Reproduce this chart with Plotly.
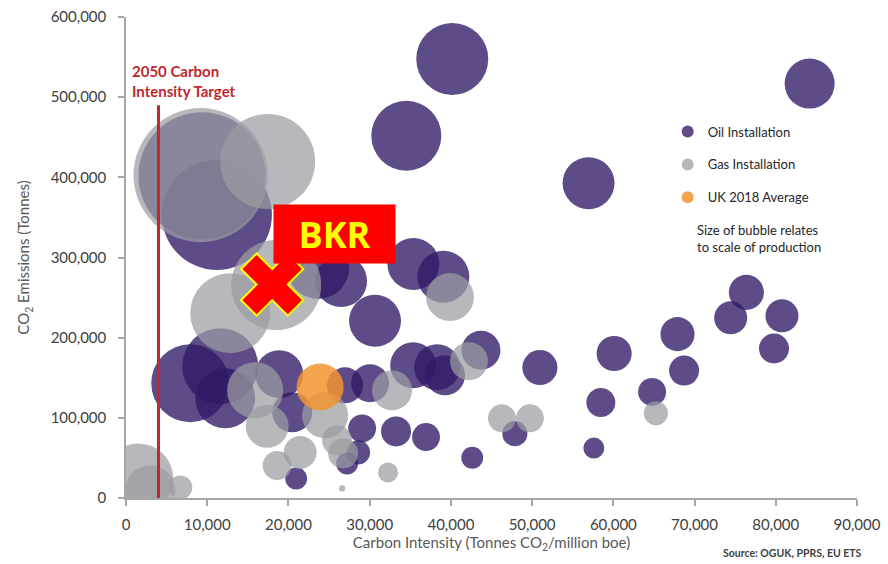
import plotly.graph_objects as go

# ---------------- data ----------------
# Oil installations: carbon intensity (t CO2 / million boe), CO2 emissions (t), production (relative, bubble area)
oil_x = [40170, 34510, 56950, 84170, 76380, 74450, 80760, 79780, 67900, 68710,
         60100, 64770, 58460, 57600, 50960, 43700, 47880, 42630, 36940, 35380,
         39070, 30660, 23660, 26480, 9350, 11190, 7910, 11600, 12210, 18870,
         20470, 20950, 26970, 30050, 29070, 28570, 27220, 33250, 35360, 38310,
         39280]
oil_y = [547750, 451900, 392750, 516900, 256500, 224750, 227250, 186500, 204400, 159000,
         180250, 132250, 119000, 62250, 162750, 184400, 80250, 50250, 76000, 291900,
         276000, 221000, 286900, 270600, 402100, 353100, 143100, 164400, 124400, 154400,
         106900, 24400, 140600, 143100, 86900, 56900, 43100, 83100, 165600, 163100,
         153100]
oil_prod = [51.8, 49.0, 27.0, 25.0, 12.3, 10.9, 10.9, 9.0, 11.6, 9.0,
            12.3, 7.8, 8.4, 4.4, 12.3, 15.2, 6.3, 4.8, 7.8, 27.0,
            27.0, 27.0, 38.4, 27.0, 161.3, 121.0, 60.8, 57.8, 36.0, 23.0,
            16.0, 4.8, 13.0, 14.4, 7.8, 5.8, 4.8, 9.0, 21.2, 21.2,
            16.0]

# Gas installations
gas_x = [9180, 17440, 12830, 18490, 15900, 17380, 18610, 21440, 26610, 26730,
         24510, 25980, 32760, 32260, 39890, 42230, 46290, 49730, 65240, 1510,
         2990, 6680]
gas_y = [402750, 419750, 230600, 265600, 134400, 89400, 40600, 56900, 11900, 55600,
         103100, 71900, 134400, 31900, 250600, 170600, 99400, 99400, 105600, 24400,
         9400, 13100]
gas_prod = [179.6, 90.3, 64.0, 81.0, 31.4, 18.5, 8.4, 10.9, 0.4, 9.0,
            21.2, 9.0, 16.0, 4.0, 23.0, 14.4, 7.8, 7.8, 5.8, 49.0,
            25.0, 5.8]

# UK 2018 average
uk_x = [23900]
uk_y = [138500]
uk_prod = [22.1]

# 2050 carbon intensity target
target_x = [4000, 4000]
target_y = [0, 490000]

# BKR marker
bkr_x = [18000]
bkr_y = [266250]
bkr_label_x = 25700
bkr_label_y = 329750

x_ticks = [0, 10000, 20000, 30000, 40000, 50000, 60000, 70000, 80000, 90000]
y_ticks = [0, 100000, 200000, 300000, 400000, 500000, 600000]

OIL = "rgba(48,25,102,0.78)"
GAS = "rgba(155,157,162,0.72)"
UK = "rgba(242,148,48,0.85)"
RED = "#c0282e"
FONT = "Lato, 'Open Sans', sans-serif"
SIZEREF = 0.02

fig = go.Figure()

fig.add_trace(go.Scatter(
    x=oil_x, y=oil_y, mode="markers", name="Oil Installation",
    legendgroup="oil",
    marker=dict(size=oil_prod, sizemode="area", sizeref=SIZEREF, color=OIL,
                opacity=1, line=dict(width=0)),
))
fig.add_trace(go.Scatter(
    x=gas_x, y=gas_y, mode="markers", name="Gas Installation",
    legendgroup="gas",
    marker=dict(size=gas_prod, sizemode="area", sizeref=SIZEREF, color=GAS,
                opacity=1, line=dict(width=0)),
))
fig.add_trace(go.Scatter(
    x=uk_x, y=uk_y, mode="markers", name="UK 2018 Average",
    legendgroup="uk",
    marker=dict(size=uk_prod, sizemode="area", sizeref=SIZEREF, color=UK,
                opacity=1, line=dict(width=0)),
))
fig.add_trace(go.Scatter(
    x=target_x, y=target_y, mode="lines", showlegend=False,
    line=dict(color=RED, width=3), hoverinfo="skip",
))
fig.add_trace(go.Scatter(
    x=bkr_x, y=bkr_y, mode="markers", showlegend=False,
    marker=dict(symbol="x", size=55, color="#ff0000", opacity=1,
                line=dict(color="#ffff00", width=2)),
))

fig.add_annotation(
    x=bkr_label_x, y=bkr_label_y, xref="x", yref="y",
    text="<b>BKR</b>", showarrow=False,
    font=dict(family="'Open Sans', sans-serif", size=36, color="#ffff00"),
    bgcolor="#ff0000", width=119, height=56, borderpad=1,
    align="center", valign="middle",
)
fig.add_annotation(
    x=0.005, y=0.91, xref="paper", yref="paper", xanchor="left", yanchor="top",
    text="<b>2050 Carbon<br>Intensity Target</b>", showarrow=False, align="left",
    font=dict(family=FONT, size=15, color=RED),
)
fig.add_annotation(
    x=0.778, y=0.579, xref="paper", yref="paper", xanchor="left", yanchor="top",
    text="Size of bubble relates<br>to scale of production", showarrow=False, align="left",
    font=dict(family=FONT, size=13, color="#262626"),
)
fig.add_annotation(
    x=1.01, y=-0.114, xref="paper", yref="paper", xanchor="right", yanchor="middle",
    text="<b>Source: OGUK, PPRS, EU ETS</b>", showarrow=False,
    font=dict(family=FONT, size=10.5, color="#404040"),
)

axis_common = dict(
    showgrid=False, zeroline=False, showline=True, linecolor="#a6a6a6", linewidth=1.5,
    ticks="outside", ticklen=6, tickcolor="#a6a6a6", tickwidth=1.5, automargin=False,
    ticklabeloverflow="allow",
    tickfont=dict(family=FONT, size=15, color="#404040"), tickformat=",d",
)

fig.update_layout(
    width=888, height=564,
    margin=dict(l=126, r=31, t=17, b=66, autoexpand=False),
    plot_bgcolor="white", paper_bgcolor="white",
    font=dict(family=FONT, color="#404040"),
    xaxis=dict(range=[0, 90000], tickvals=x_ticks, ticklabelstandoff=6,
               title=dict(text="Carbon Intensity (Tonnes CO<sub>2</sub>/million boe)",
                          font=dict(family=FONT, size=15, color="#595959"), standoff=6),
               **axis_common),
    yaxis=dict(range=[0, 600000], tickvals=y_ticks, ticklabelstandoff=9,
               title=dict(text="CO<sub>2</sub> Emissions (Tonnes)",
                          font=dict(family=FONT, size=15, color="#595959"), standoff=17),
               **axis_common),
    legend=dict(x=0.741, y=0.793, xanchor="left", yanchor="top",
                font=dict(family=FONT, size=13, color="#262626"),
                bgcolor="rgba(0,0,0,0)", itemsizing="constant", tracegroupgap=13),
    showlegend=True,
)

# remove the default page margin so the 888x564 figure fills the window exactly
fig.write_html("out.html", config={"displayModeBar": False},
               post_script="document.body.style.margin='0';document.body.style.overflow='hidden';")
